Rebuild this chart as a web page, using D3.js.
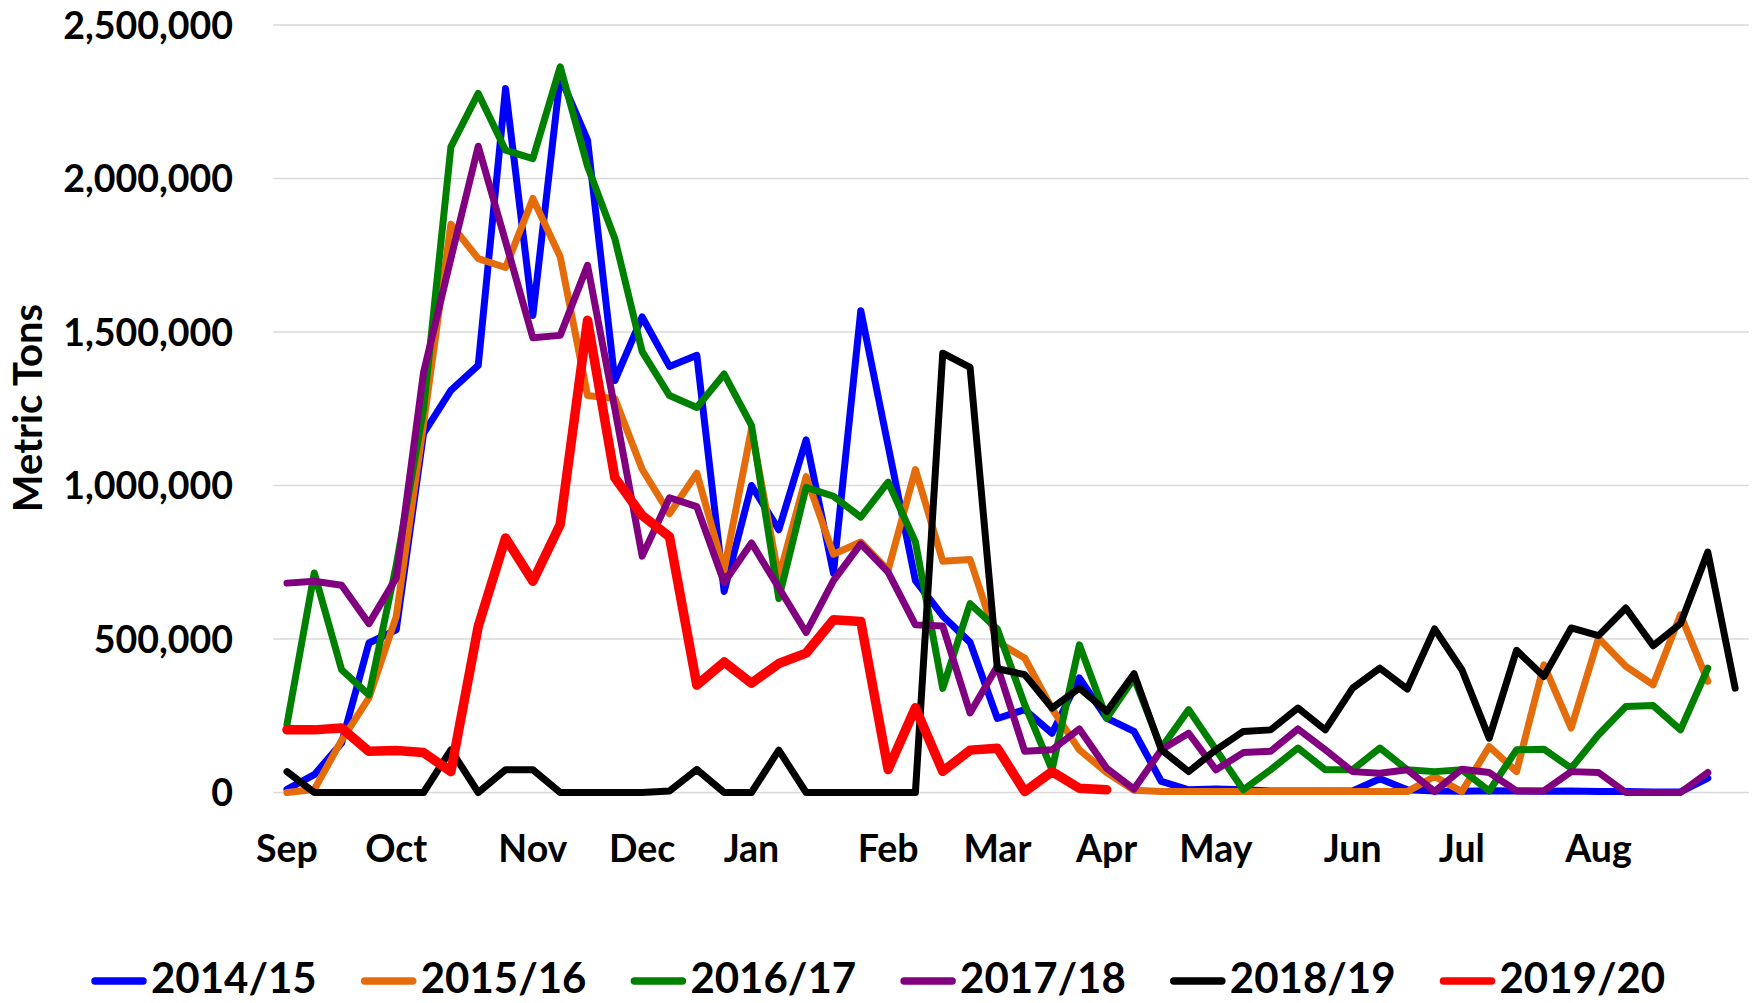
<!DOCTYPE html>
<html>
<head>
<meta charset="utf-8">
<script src="https://cdn.jsdelivr.net/npm/d3@7"></script>
<style>
html,body{margin:0;padding:0;background:#fff;}
svg{display:block;}
text{font-family:Lato,"Open Sans",sans-serif;font-weight:bold;fill:#000;}
</style>
</head>
<body>
<svg id="chart" width="1755" height="1003"></svg>
<script>
// Week categories (Sep .. Aug), month name on the first week of each month
const categories = ["Sep","","","","Oct","","","","","Nov","","","","Dec","","","","Jan","","","","","Feb","","","","Mar","","","","Apr","","","","May","","","","","Jun","","","","Jul","","","","","Aug","","","","",""];

const seriesNames = ["2014/15","2015/16","2016/17","2017/18","2018/19","2019/20"];
const seriesColors = ["#0000FF","#E46C0A","#008000","#800080","#000000","#FF0000"];

const s2014 = [10000,58000,161000,487000,530000,1170000,1310000,1391000,2293000,1554000,2332000,2125000,1342000,1549000,1388000,1424000,655000,1000000,856000,1149000,715000,1569000,1130000,690000,575000,489000,241000,270000,193000,373000,242000,199000,36000,9000,11000,9000,5000,5000,5000,5000,45000,9000,5000,4000,6000,5000,4000,5000,3000,3000,2000,2000,47000];
const s2015 = [0,10000,170000,308000,574000,1200000,1851000,1739000,1710000,1935000,1745000,1293000,1283000,1053000,908000,1040000,724000,1184000,700000,1029000,776000,816000,724000,1052000,753000,759000,490000,438000,273000,139000,65000,7000,3000,3000,3000,3000,3000,3000,3000,3000,3000,3000,52000,3000,150000,68000,416000,210000,503000,411000,351000,579000,362000];
const s2016 = [221000,715000,400000,318000,740000,1250000,2103000,2277000,2092000,2065000,2364000,2040000,1804000,1436000,1293000,1254000,1363000,1196000,632000,994000,965000,897000,1011000,816000,339000,615000,532000,286000,74000,481000,242000,373000,145000,270000,139000,9000,74000,145000,74000,74000,145000,74000,68000,74000,5000,139000,141000,79000,188000,280000,283000,204000,405000];
const s2017 = [682000,688000,675000,550000,699000,1369000,1740000,2105000,1795000,1481000,1489000,1717000,1250000,770000,960000,931000,684000,813000,667000,521000,690000,810000,718000,546000,542000,259000,411000,134000,139000,207000,79000,11000,139000,193000,74000,130000,134000,207000,139000,68000,63000,74000,3000,76000,65000,5000,5000,68000,65000,0,0,0,65000];
const s2018 = [68000,0,0,0,0,0,139000,0,74000,74000,0,0,0,0,5000,75000,0,0,138000,0,0,0,0,0,1431000,1385000,403000,384000,275000,340000,264000,387000,139000,68000,139000,199000,204000,275000,204000,340000,405000,337000,533000,400000,177000,463000,378000,536000,511000,601000,478000,550000,783000,340000];
const s2019 = [204000,204000,210000,134000,137000,130000,68000,541000,829000,688000,873000,1538000,1025000,902000,833000,350000,425000,356000,420000,454000,563000,557000,75000,276000,69000,138000,144000,3000,68000,14000,9000];

const yTicks = [0,500000,1000000,1500000,2000000,2500000];
const yTitle = "Metric Tons";

const allSeries = [s2014,s2015,s2016,s2017,s2018,s2019];

const svg = d3.select("#chart");
const plot = {left:273.3, right:1748.8, top:25, bottom:792.5};

const x = d3.scaleBand().domain(d3.range(categories.length)).range([plot.left, plot.right]).paddingInner(0).paddingOuter(0);
const bw = x.bandwidth();
const y = d3.scaleLinear().domain([0,2500000]).range([plot.bottom, plot.top]);

// gridlines
svg.append("g").selectAll("line").data(yTicks).join("line")
  .attr("x1", plot.left).attr("x2", plot.right)
  .attr("y1", d=>y(d)).attr("y2", d=>y(d))
  .attr("stroke", "#D9D9D9").attr("stroke-width", 1.5);

// y axis labels
const yAxis = d3.axisLeft(y).tickValues(yTicks).tickFormat(d3.format(",")).tickSize(0).tickPadding(0);
const gy = svg.append("g").attr("transform", `translate(233,0)`).call(yAxis);
gy.select(".domain").remove();
gy.selectAll("text").attr("font-size", 37.5).attr("font-family","Lato").attr("font-weight","bold").attr("dy", null)
  .attr("y", 13.4).attr("fill","#000");

// x axis labels
const xAxis = d3.axisBottom(x).tickValues(d3.range(categories.length).filter(i=>categories[i] !== ""))
  .tickFormat(i=>categories[i]).tickSize(0).tickPadding(0);
const gx = svg.append("g").call(xAxis);
gx.select(".domain").remove();
gx.selectAll("text").attr("font-size", 37.5).attr("font-family","Lato").attr("font-weight","bold")
  .attr("dy", null).attr("y", 862).attr("fill","#000");

// y title
svg.append("text").attr("transform", "translate(42,408) rotate(-90)")
  .attr("text-anchor","middle").attr("font-size", 40).text(yTitle);

// lines
const line = d3.line().x((d,i)=>x(i)+bw/2).y(d=>y(d));
allSeries.forEach((s,k)=>{
  svg.append("path").datum(s).attr("d", line)
    .attr("fill","none").attr("stroke", seriesColors[k])
    .attr("stroke-width", k===5 ? 9.5 : 7)
    .attr("stroke-linejoin","round").attr("stroke-linecap","round");
});

// legend
const lg = svg.append("g");
seriesNames.forEach((n,k)=>{
  const lx = 92 + k*269.7;
  lg.append("line").attr("x1", lx+3).attr("x2", lx+51).attr("y1", 981).attr("y2", 981)
    .attr("stroke", seriesColors[k]).attr("stroke-width", 7.5).attr("stroke-linecap","round");
  lg.append("text").attr("x", lx+59).attr("y", 993).attr("font-size", 42).text(n);
});
</script>
</body>
</html>
